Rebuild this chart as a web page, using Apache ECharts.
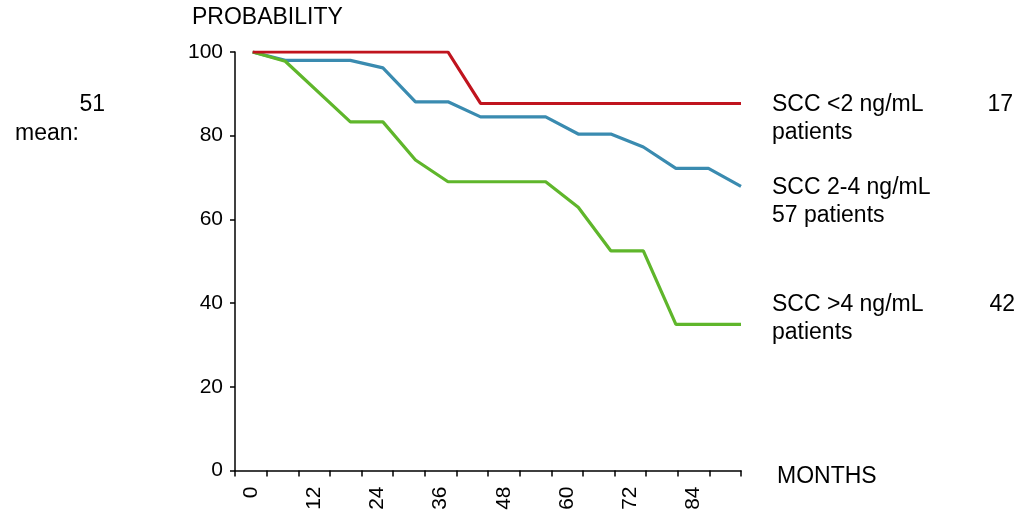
<!DOCTYPE html>
<html>
<head>
<meta charset="utf-8">
<script src="https://cdn.jsdelivr.net/npm/echarts@6/dist/echarts.min.js"></script>
<style>html,body{margin:0;padding:0;background:#fff}#c{width:1017px;height:514px}</style>
</head>
<body>
<div id="c"></div>
<script>
// Categories on the visible month axis (6-month steps)
const monthCategories = ['0','6','12','18','24','30','36','42','48','54','60','66','72','78','84','90'];
// Series: [month, probability]
const sccLow  = [[0,100],[36,100],[42,87.7],[90,87.7]];
const sccMid  = [[0,100],[6,98.0],[18,98.0],[24,96.2],[30,88.1],[36,88.1],[42,84.5],[54,84.5],[60,80.4],[66,80.4],[72,77.3],[78,72.2],[84,72.2],[90,67.9]];
const sccHigh = [[0,100],[6,97.8],[18,83.3],[24,83.3],[30,74.2],[36,69.0],[54,69.0],[60,62.9],[66,52.5],[72,52.5],[78,34.9],[90,34.9]];
const seriesNames = ['SCC <2 ng/mL','SCC 2-4 ng/mL','SCC >4 ng/mL'];
const yTitle = 'PROBABILITY';
const xTitle = 'MONTHS';
const sideTexts = ['SCC <2 ng/mL','patients','SCC 2-4 ng/mL','57 patients','SCC >4 ng/mL','patients'];
const countTexts = ['17','42'];
const meanTexts = ['51','mean:'];

const FONT = 'Liberation Sans, Arial, sans-serif';
const chart = echarts.init(document.getElementById('c'));
function txt(x, y, s, size, align) {
  return {type:'text', x:x, y:y, style:{text:s, x:0, y:0, fill:'#000', font: size+'px '+FONT, textAlign: align||'left', textVerticalAlign:'middle'}};
}
const g = [
  txt(192, 18, yTitle, 23),
  txt(777, 477, xTitle, 23),
  txt(772, 105, sideTexts[0], 23),
  txt(772, 133, sideTexts[1], 23),
  txt(772, 188, sideTexts[2], 23),
  txt(772, 216, sideTexts[3], 23),
  txt(772, 305, sideTexts[4], 23),
  txt(772, 333, sideTexts[5], 23),
  txt(1013, 105, countTexts[0], 23, 'right'),
  txt(1015, 305, countTexts[1], 23, 'right'),
  txt(105, 105, meanTexts[0], 23, 'right'),
  txt(15, 134, meanTexts[1], 23)
];
chart.setOption({
  animation:false,
  backgroundColor:'#fff',
  grid:{left:235, top:52, right:276, bottom:43.5},
  xAxis:[{
    type:'category', data: monthCategories, boundaryGap:true,
    axisLine:{show:true, onZero:false, lineStyle:{color:'#000', width:1.5}},
    axisTick:{show:true, interval:0, length:6, lineStyle:{color:'#000', width:1.5}},
    axisLabel:{interval:1, rotate:90, margin:16, color:'#000', fontSize:21, fontFamily:FONT},
    splitLine:{show:false}
  },{
    type:'value', min:-3.26, max:90, show:false, splitLine:{show:false}
  }],
  yAxis:{
    type:'value', min:0, max:100, interval:20,
    axisLine:{show:true, onZero:false, lineStyle:{color:'#000', width:1.5}},
    axisTick:{show:true, length:5, lineStyle:{color:'#000', width:1.5}},
    axisLabel:{margin:12, color:'#000', fontSize:21, fontFamily:FONT},
    splitLine:{show:false}
  },
  series:[
    {name:seriesNames[0], type:'line', xAxisIndex:1, data:sccLow, showSymbol:false, lineStyle:{color:'#c0141e', width:3.2}, z:3},
    {name:seriesNames[1], type:'line', xAxisIndex:1, data:sccMid, showSymbol:false, lineStyle:{color:'#3a8bb0', width:3.2}, z:2},
    {name:seriesNames[2], type:'line', xAxisIndex:1, data:sccHigh, showSymbol:false, lineStyle:{color:'#5fb62b', width:3.2}, z:2}
  ],
  graphic: g
});
</script>
</body>
</html>
